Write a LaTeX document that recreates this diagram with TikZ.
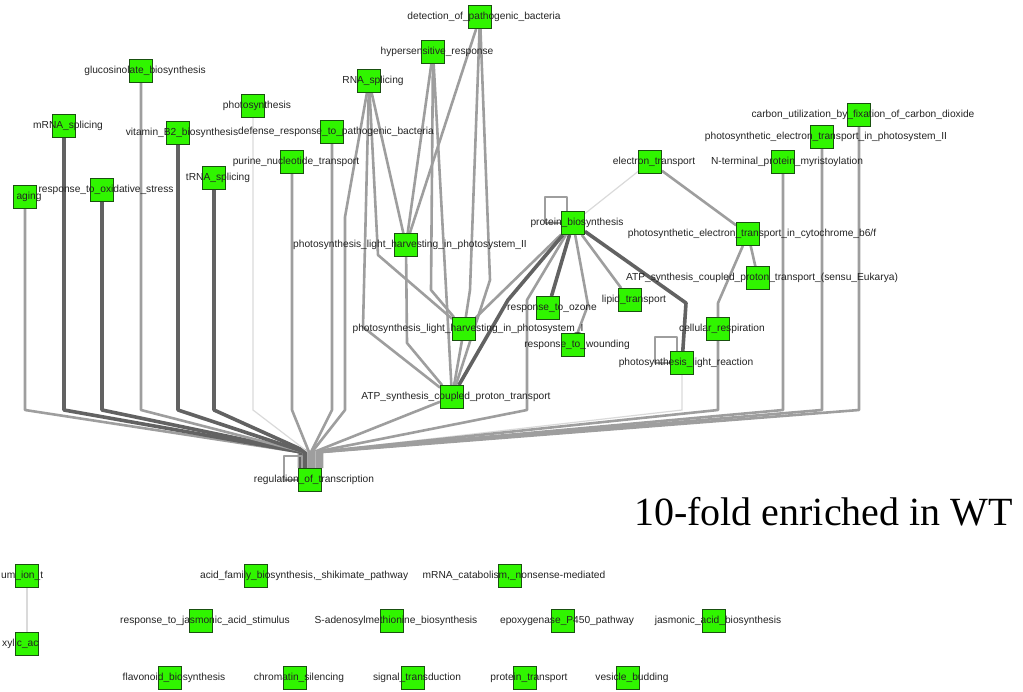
\documentclass[tikz,border=0pt]{standalone}
\usepackage{fontspec}
\setmainfont{Liberation Serif}
\setsansfont{Liberation Sans}
\usetikzlibrary{backgrounds}

\definecolor{termgreen}{RGB}{48,245,0}
\definecolor{termline}{RGB}{25,80,15}
\definecolor{edgemid}{RGB}{158,158,158}
\definecolor{edgedark}{RGB}{98,98,98}
\definecolor{edgelight}{RGB}{218,218,218}
\definecolor{labtext}{RGB}{35,35,35}

\tikzstyle{term}=[rectangle, draw=termline, fill=termgreen, line width=0.8pt, minimum size=23pt, inner sep=0pt]
\tikzstyle{lab}=[font=\sffamily\fontsize{10.2}{12}\selectfont, text=labtext, inner sep=0pt]
\tikzstyle{termlab}=[lab, xshift=4pt]
\tikzstyle{mid}=[draw=edgemid, line width=2.6pt, line join=round]
\tikzstyle{heavy}=[draw=edgedark, line width=3.6pt, line join=round]
\tikzstyle{faint}=[draw=edgelight, line width=1.2pt]

\begin{document}
\begin{tikzpicture}[x=1pt, y=-1pt]
\useasboundingbox (0,0) rectangle (1023,691);

% connected terms
\node[term, label={[termlab]center:aging}] (aging) at (25,197) {};
\node[term, label={[termlab]center:mRNA\_splicing}] (mrna) at (64,126) {};
\node[term, label={[termlab]center:response\_to\_oxidative\_stress}] (oxid) at (102,190) {};
\node[term, label={[termlab]center:glucosinolate\_biosynthesis}] (gluco) at (141,71) {};
\node[term, label={[termlab]center:vitamin\_B2\_biosynthesis}] (vitb) at (178,133) {};
\node[term, label={[termlab]center:tRNA\_splicing}] (trna) at (214,178) {};
\node[term, label={[termlab]center:photosynthesis}] (psyn) at (253,106) {};
\node[term, label={[termlab]center:purine\_nucleotide\_transport}] (purine) at (292,162) {};
\node[term, label={[termlab]center:defense\_response\_to\_pathogenic\_bacteria}] (defense) at (332,132) {};
\node[term, label={[termlab]center:RNA\_splicing}] (rnas) at (369,81) {};
\node[term, label={[termlab]center:hypersensitive\_response}] (hyper) at (433,52) {};
\node[term, label={[termlab]center:detection\_of\_pathogenic\_bacteria}] (detect) at (480,17) {};
\node[term, label={[termlab]center:photosynthesis\_light\_harvesting\_in\_photosystem\_II}] (plh2) at (406,245) {};
\node[term, label={[termlab]center:photosynthesis\_light\_harvesting\_in\_photosystem\_I}] (plh1) at (464,329) {};
\node[term, label={[termlab]center:ATP\_synthesis\_coupled\_proton\_transport}] (atp) at (452,397) {};
\node[term, label={[termlab]center:protein\_biosynthesis}] (pbio) at (573,223) {};
\node[term, label={[termlab]center:electron\_transport}] (etr) at (650,162) {};
\node[term, label={[termlab]center:N-terminal\_protein\_myristoylation}] (nterm) at (783,162) {};
\node[term, label={[termlab]center:photosynthetic\_electron\_transport\_in\_photosystem\_II}] (psii) at (822,137) {};
\node[term, label={[termlab]center:carbon\_utilization\_by\_fixation\_of\_carbon\_dioxide}] (carbon) at (859,115) {};
\node[term, label={[termlab]center:photosynthetic\_electron\_transport\_in\_cytochrome\_b6/f}] (cyt) at (748,234) {};
\node[term, label={[termlab]center:{ATP\_synthesis\_coupled\_proton\_transport\_(sensu\_Eukarya)}}] (atpe) at (758,278) {};
\node[term, label={[termlab]center:lipid\_transport}] (lipid) at (630,300) {};
\node[term, label={[termlab]center:response\_to\_ozone}] (ozone) at (548,308) {};
\node[term, label={[termlab]center:response\_to\_wounding}] (wound) at (573,345) {};
\node[term, label={[termlab]center:cellular\_respiration}] (cresp) at (718,329) {};
\node[term, label={[termlab]center:photosynthesis\_light\_reaction}] (plr) at (682,363) {};
\node[term, label={[termlab]center:regulation\_of\_transcription}] (rot) at (310,480) {};

% unconnected terms
\node[term] (ion) at (27,576) {};
\node[lab, anchor=west] (ionlab) at (1,576) {um\_ion\_t};
\node[term] (oxy) at (27,644) {};
\node[lab, anchor=west] (oxylab) at (2,644) {xylic\_ac};
\node[term] (shik) at (256,576) {};
\node[lab, anchor=west] (shiklab) at (200,576) {acid\_family\_biosynthesis,\_shikimate\_pathway};
\node[term, label={[termlab]center:{mRNA\_catabolism,\_nonsense-mediated}}] (mcat) at (510,576) {};
\node[term, label={[termlab]center:response\_to\_jasmonic\_acid\_stimulus}] (jstim) at (201,621) {};
\node[term, label={[termlab]center:S-adenosylmethionine\_biosynthesis}] (sadm) at (392,621) {};
\node[term, label={[termlab]center:epoxygenase\_P450\_pathway}] (epox) at (563,621) {};
\node[term, label={[termlab]center:jasmonic\_acid\_biosynthesis}] (jbio) at (714,621) {};
\node[term, label={[termlab]center:flavonoid\_biosynthesis}] (flav) at (170,678) {};
\node[term, label={[termlab]center:chromatin\_silencing}] (chrom) at (295,678) {};
\node[term, label={[termlab]center:signal\_transduction}] (signal) at (413,678) {};
\node[term, label={[termlab]center:protein\_transport}] (ptrans) at (525,678) {};
\node[term, label={[termlab]center:vesicle\_budding}] (vbud) at (628,678) {};

\node[font=\rmfamily\fontsize{40}{44}\selectfont, anchor=east, inner sep=0pt] (caption) at (1013,512) {10-fold enriched in WT};

% bend points
\coordinate (bend) at (0,410);
\coordinate (hub) at (310,452);
\coordinate (rb1) at (345,217);
\coordinate (rb2) at (378,255);
\coordinate (rb3) at (363,327);
\coordinate (hb1) at (431,290);
\coordinate (db1) at (470,290);
\coordinate (db2) at (490,280);
\coordinate (pb1) at (407,343);
\coordinate (bb1) at (508,300);
\coordinate (bb2) at (527,300);
\coordinate (bb3) at (588,305);
\coordinate (bb4) at (686,303);
\coordinate (cb1) at (718,303);

\begin{pgfonlayer}{background}
% into regulation_of_transcription
\draw[mid]   (aging)   -- (aging |- bend)   -- ([xshift=-11pt]hub) -- ([xshift=-11pt]rot.north);
\draw[heavy] (mrna)    -- (mrna |- bend)    -- ([xshift=-9pt]hub)  -- ([xshift=-9pt]rot.north);
\draw[heavy] (oxid)    -- (oxid |- bend)    -- ([xshift=-7pt]hub)  -- ([xshift=-7pt]rot.north);
\draw[mid]   (gluco)   -- (gluco |- bend)   -- ([xshift=-6pt]hub)  -- ([xshift=-6pt]rot.north);
\draw[heavy] (vitb)    -- (vitb |- bend)    -- ([xshift=-5pt]hub)  -- ([xshift=-5pt]rot.north);
\draw[heavy] (trna)    -- (trna |- bend)    -- ([xshift=-3pt]hub)  -- ([xshift=-3pt]rot.north);
\draw[faint] (psyn)    -- (psyn |- bend)    -- ([xshift=-2pt]hub)  -- ([xshift=-2pt]rot.north);
\draw[mid]   (purine)  -- (purine |- bend)  -- ([xshift=-1pt]hub)  -- ([xshift=-1pt]rot.north);
\draw[mid]   (defense) -- (defense |- bend) -- ([xshift=1pt]hub)   -- ([xshift=1pt]rot.north);
\draw[mid]   (rnas) -- (rb1) -- (rb1 |- bend) -- ([xshift=2pt]hub) -- ([xshift=2pt]rot.north);
\draw[mid]   (atp)  -- ([xshift=4pt]hub) -- ([xshift=4pt]rot.north);
\draw[mid]   (pbio) -- (bb2) -- (bb2 |- bend) -- ([xshift=5pt]hub) -- ([xshift=5pt]rot.north);
\draw[faint] (plr)  -- (plr |- bend) -- ([xshift=6pt]hub) -- ([xshift=6pt]rot.north);
\draw[mid]   (cresp)  -- (cresp |- bend)  -- ([xshift=7pt]hub)  -- ([xshift=7pt]rot.north);
\draw[mid]   (nterm)  -- (nterm |- bend)  -- ([xshift=9pt]hub)  -- ([xshift=9pt]rot.north);
\draw[mid]   (psii)   -- (psii |- bend)   -- ([xshift=10pt]hub) -- ([xshift=10pt]rot.north);
\draw[mid]   (carbon) -- (carbon |- bend) -- ([xshift=12pt]hub) -- ([xshift=12pt]rot.north);
\draw[mid] ([xshift=-8pt]rot.north) -- ++(0,-12) -| ([xshift=-26pt]rot.center) -- (rot.west);

% photosystem cluster
\draw[mid] (rnas) -- (plh2);
\draw[mid] (rnas) -- (rb2) -- (plh1);
\draw[mid] (rnas) -- (rb3) -- (atp);
\draw[mid] (hyper) -- (plh2);
\draw[mid] (hyper) -- (hb1) -- (plh1);
\draw[mid] (hyper) -- (atp);
\draw[mid] (detect) -- (plh2);
\draw[mid] (detect) -- (db1) -- (plh1);
\draw[mid] (detect) -- (db2) -- (atp);
\draw[mid] (plh2) -- (pb1) -- (atp);
\draw[mid] (plh1) -- (atp);

% protein_biosynthesis
\draw[mid] (pbio) -- (plh1);
\draw[heavy] (pbio) -- (bb1) -- (atp);
\draw[heavy] (pbio) -- (ozone);
\draw[mid] (pbio) -- (bb3) -- (wound);
\draw[mid] (pbio) -- (lipid);
\draw[heavy] (pbio) -- (bb4) -- (plr);
\draw[mid] ([xshift=-6pt]pbio.north) -- ++(0,-14) -| ([xshift=-28pt]pbio.center) -- (pbio.west);
\draw[faint] (etr) -- (pbio);

% electron transport chain
\draw[mid] (etr) -- (cyt);
\draw[mid] (cyt) -- (atpe);
\draw[mid] (cyt) -- (cb1) -- (cresp);
\draw[mid] ([xshift=-5pt]plr.north) -- ++(0,-14) -| ([xshift=-27pt]plr.center) -- (plr.west);

\draw[faint] (ion) -- (oxy);
\end{pgfonlayer}
\end{tikzpicture}
\end{document}
